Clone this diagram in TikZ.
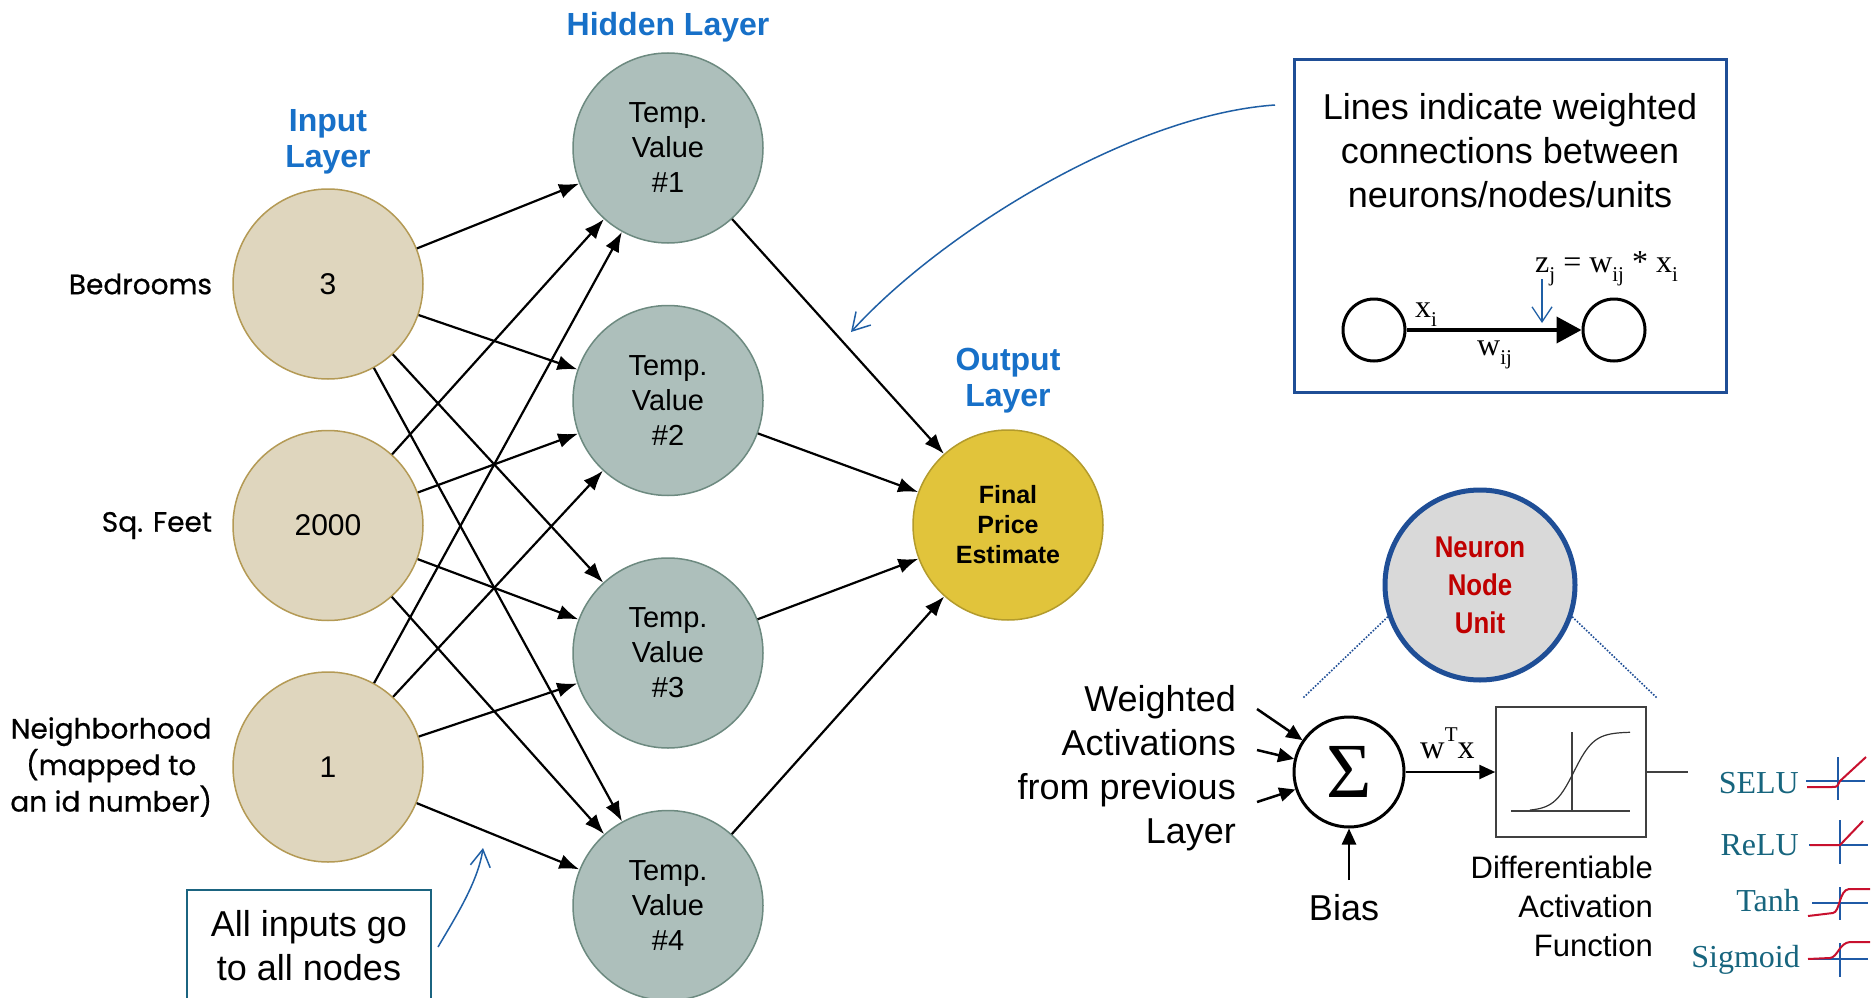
\documentclass[tikz,border=0pt]{standalone}
\usepackage{fontspec}
\setmainfont{Liberation Sans}
\newfontfamily\narrowsans[FakeStretch=0.86]{Liberation Sans}
\newfontfamily\timesfont{Liberation Serif}
\newfontfamily\geofont[FakeBold=0.6]{Poppins}
\usepackage{tikz}
\usetikzlibrary{arrows.meta,positioning}

\definecolor{layerblue}{HTML}{1770C8}
\definecolor{inputfill}{HTML}{DFD6BE}
\definecolor{inputline}{HTML}{B49A55}
\definecolor{hiddenfill}{HTML}{ADBFBB}
\definecolor{hiddenline}{HTML}{6D8A80}
\definecolor{outfill}{HTML}{E1C43B}
\definecolor{outborder}{HTML}{B39B2C}
\definecolor{boxblue}{HTML}{1F4E96}
\definecolor{noteteal}{HTML}{1B6480}
\definecolor{calloutblue}{HTML}{1F5FA5}
\definecolor{neuronred}{HTML}{C00000}
\definecolor{legendteal}{HTML}{17657E}
\definecolor{curvered}{HTML}{C8102E}
\definecolor{axisblue}{HTML}{1F5AA6}

\newcommand{\fs}[2]{\fontsize{#1}{#2}\selectfont}
\newcommand{\subtxt}[1]{\raisebox{-.3em}{\fs{21}{21}#1}}
\newcommand{\suptxt}[1]{\raisebox{.5em}{\fs{21}{21}#1}}

\begin{document}
\begin{tikzpicture}[x=1pt,y=-1pt,
  inputnode/.style={circle,draw=inputline,line width=1.5pt,fill=inputfill,minimum size=190pt,inner sep=0pt,font=\fs{30}{34}},
  hiddennode/.style={circle,draw=hiddenline,line width=1.5pt,fill=hiddenfill,minimum size=190pt,inner sep=0pt,align=center,font=\fs{29}{35}},
  outnode/.style={circle,draw=outborder,line width=1.5pt,fill=outfill,minimum size=190pt,inner sep=0pt,align=center,font=\bfseries\fs{25}{30}},
  layer/.style={text=layerblue,font=\bfseries\fs{32}{36},align=center,inner sep=0pt},
  feature/.style={font=\geofont\fs{28}{36.5},align=center,inner sep=0pt},
  link/.style={line width=2.2pt,-{Latex[length=20pt,width=15pt]}},
  callout/.style={calloutblue,line width=1.5pt,-{Straight Barb[length=17pt,width=20pt]}},
  textblock/.style={font=\fs{36}{44},inner sep=0pt},
  formula/.style={font=\timesfont\fs{32}{36},inner sep=0pt},
  neuron/.style={circle,draw=boxblue,line width=5pt,fill=black!15,minimum size=190pt,inner sep=0pt,align=center,text=neuronred,font=\narrowsans\bfseries\fs{30}{38}},
  sum/.style={circle,draw,line width=3pt,minimum size=110pt,inner sep=0pt},
  sumarrow/.style={line width=2.5pt,-{Triangle[length=16pt,width=14pt]}},
  actbox/.style={draw=black!75,line width=1.5pt,minimum width=150pt,minimum height=130pt},
  dotline/.style={boxblue,line width=1.6pt,dash pattern=on 1.6pt off 1.6pt},
  legend/.style={text=legendteal,font=\timesfont\fs{32}{36},inner sep=0pt},
  axis/.style={axisblue,line width=2pt},
  curve/.style={curvered,line width=2pt}]

\path[use as bounding box,fill=white] (0,0) rectangle (1872,998);

\node[inputnode] (i_1) at (328,284) {3};
\node[inputnode] (i_2) [below=50pt of i_1] {2000};
\node[inputnode] (i_3) [below=50pt of i_2] {1};

\node[hiddennode] (h_1) at (668,148) {Temp.\\Value\\\#1};
\node[hiddennode] (h_2) [below=61pt of h_1] {Temp.\\Value\\\#2};
\node[hiddennode] (h_3) [below=61pt of h_2] {Temp.\\Value\\\#3};
\node[hiddennode] (h_4) [below=61pt of h_3] {Temp.\\Value\\\#4};

\node[outnode] (o) at (1008,525) {Final\\Price\\Estimate};

\node[layer] (l_in) [above=14pt of i_1] {Input\\Layer};
\node[layer] (l_hid) [above=10pt of h_1] {Hidden Layer};
\node[layer] (l_out) [above=16pt of o] {Output\\Layer};

\node[feature] (f_1) [left=20pt of i_1] {Bedrooms};
\node[feature] (f_2) [left=20pt of i_2] {Sq. Feet};
\node[feature] (f_3) [left=20pt of i_3] {Neighborhood\\(mapped to\\an id number)};

\path[link] (i_1) edge (h_1) edge (h_2) edge (h_3) edge (h_4)
    (i_2) edge (h_1) edge (h_2) edge (h_3) edge (h_4)
    (i_3) edge (h_1) edge (h_2) edge (h_3) edge (h_4)
    (h_1) edge (o) (h_2) edge (o) (h_3) edge (o) (h_4) edge (o);

\node[textblock,align=center] (note) at (309,945.5) {All inputs go\\to all nodes};
\draw[noteteal,line width=2pt] (187,1000) |- (431,890) -- (431,1000);
\coordinate (c_1) at (438,947);
\coordinate (c_2) at (483,848);
\draw[callout] (c_1) .. controls (455,918) and (478,882) .. (c_2);

\node[draw=boxblue,line width=3.5pt,minimum width=432pt,minimum height=333pt] (infobox) at (1510.5,226) {};
\node[textblock,align=center] (infotxt) at (1510,151) {Lines indicate weighted\\connections between\\neurons/nodes/units};
\node[circle,draw,line width=3pt,minimum size=62pt] (n_a) at (1374,330) {};
\node[circle,draw,line width=3pt,minimum size=62pt] (n_b) at (1614,330) {};
\draw[line width=4pt,-{Triangle[length=25pt,width=26pt]}] (n_a) -- (n_b);
\node[formula,anchor=base west] (xi) at (1415,317) {x\subtxt{i}};
\node[formula,anchor=base west] (wij) at (1477,355) {w\subtxt{ij}};
\node[formula,anchor=base west] (zj) at (1535,272) {z\subtxt{j} = w\subtxt{ij} * x\subtxt{i}};
\coordinate (z_top) at (1542,279);
\coordinate (z_bot) at (1542,323);
\draw[callout,line width=1.3pt,-{Straight Barb[length=15pt,width=20pt]}] (z_top) -- (z_bot);
\coordinate (c_3) at (1275,105);
\coordinate (c_4) at (851,332);
\draw[callout] (c_3) .. controls (1130,115) and (940,234) .. (c_4);

\node[neuron] (nu) at (1480,585) {Neuron\\Node\\Unit};
\coordinate (d_l) at (1303,698);
\coordinate (d_r) at (1657,698);
\draw[dotline] (nu.199) -- (d_l);
\draw[dotline] (nu.341) -- (d_r);

\node[sum] (sig) at (1349,772) {\timesfont\fs{78}{78}Σ};
\node[actbox] (act) at (1571,772) {};
\coordinate (w_1) at (1257,709);
\coordinate (w_2) at (1257,750);
\coordinate (w_3) at (1257,802);
\coordinate (b_0) at (1349,880);
\coordinate (a_out) at (1688,772);
\draw[sumarrow] (w_1) -- (sig);
\draw[sumarrow] (w_2) -- (sig);
\draw[sumarrow] (w_3) -- (sig);
\draw[sumarrow] (b_0) -- (sig);
\draw[sumarrow] (sig) -- (act);
\draw[line width=2pt,black!75] (act) -- (a_out);
\node[formula,font=\timesfont\fs{34}{36},anchor=base west] (wtx) at (1420,758) {w\suptxt{T}x};
\draw[line width=1.5pt,black!75] (1511,811) -- (1630,811) (1572,732) -- (1572,811);
\draw[line width=1.2pt,black!80] plot[domain=1530:1630,samples=40] (\x,{811-79/(1+exp(-(\x-1574)/10))});

\node[textblock,align=right,anchor=east] (wa) at (1236,768) {Weighted\\Activations\\from previous\\Layer};
\node[textblock,anchor=base] (bias) at (1344,920) {Bias};
\node[textblock,font=\fs{31}{39},align=right,anchor=east] (daf) at (1653,906.7) {Differentiable\\Activation\\Function};

\node[legend,anchor=base east] (g_1) at (1799,793) {SELU};
\node[legend,anchor=base east] (g_2) at (1799,855) {ReLU};
\node[legend,anchor=base east] (g_3) at (1800,911) {Tanh};
\node[legend,anchor=base east] (g_4) at (1800,967) {Sigmoid};
\draw[axis] (1806,781) -- (1865,781) (1838,757) -- (1838,800);
\draw[curve] (1807,787) -- (1832,787) .. controls (1837,787) .. (1840,781) -- (1866,757);
\draw[axis] (1809,845) -- (1868,845) (1840,820) -- (1840,864);
\draw[curve] (1810,845) -- (1840,845) -- (1863,821);
\draw[axis] (1812,903) -- (1868,903) (1840,887) -- (1840,920);
\draw[curve] (1808,916) -- (1833,913) .. controls (1840,912) and (1839,890) .. (1849,889) -- (1870,889);
\draw[axis] (1808,959) -- (1868,959) (1840,943) -- (1840,977);
\draw[curve] (1808,959) -- (1830,958) .. controls (1838,957) and (1839,943) .. (1850,942) -- (1870,942);
\end{tikzpicture}
\end{document}
